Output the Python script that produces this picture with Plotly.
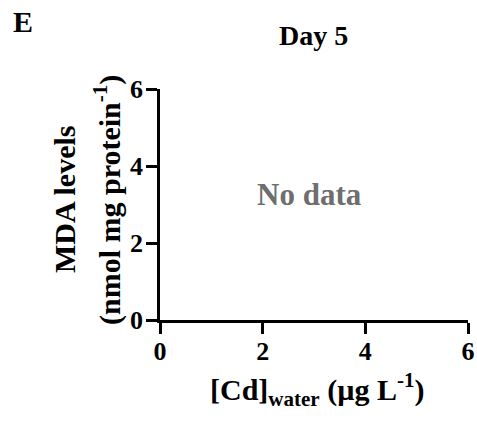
import plotly.graph_objects as go

# Data (this panel has no data points)
cd_water = []          # [Cd]water (µg/L)
mda_levels = []        # MDA levels (nmol/mg protein)
x_ticks = [0, 2, 4, 6]
y_ticks = [0, 2, 4, 6]
panel_label = "E"
panel_title = "Day 5"
no_data_text = "No data"

FONT = "Liberation Serif"
W, H = 477, 424
L, R, T, B = 160, 468, 89, 320  # plot box in page px

fig = go.Figure()
fig.add_trace(go.Scatter(x=cd_water, y=mda_levels, mode="markers",
                         marker=dict(color="black"), showlegend=False))

axis_common = dict(
    showline=True, linecolor="black", linewidth=2.5,
    ticks="outside", ticklen=11, tickwidth=2.5, tickcolor="black",
    showgrid=False, zeroline=False,
    tickfont=dict(family=FONT, size=26, color="black", weight="bold"),
)

fig.update_xaxes(range=[0, 6], tickvals=x_ticks, ticktext=[str(v) for v in x_ticks],
                 ticklabelstandoff=-5, **axis_common)
fig.update_yaxes(range=[0, 6], tickvals=y_ticks, ticktext=[str(v) for v in y_ticks],
                 ticklabelstandoff=-2, **axis_common)

fig.update_layout(
    width=W, height=H,
    margin=dict(l=L, r=W - R, t=T, b=H - B, autoexpand=False),
    plot_bgcolor="white", paper_bgcolor="white",
    font=dict(family=FONT, color="black"),
)

annots = [
    dict(text="<b>" + panel_label + "</b>", x=23, y=22, size=30, rot=0),
    dict(text="<b>" + panel_title + "</b>", x=313, y=36, size=28, rot=0),
    dict(text="<b>[Cd]<sub>water</sub> (µg L<sup>-1</sup>)</b>", x=317, y=389, size=30, rot=0),
    dict(text="<b>MDA levels</b>", x=64, y=200, size=30, rot=-90),
    dict(text="<b>(nmol mg protein<sup>-1</sup>)</b>", x=107, y=200, size=30, rot=-90),
]
for a in annots:
    fig.add_annotation(
        text=a["text"], xref="paper", yref="paper",
        x=(a["x"] - L) / (R - L),
        y=1 - (a["y"] - T) / (B - T),
        xanchor="center", yanchor="middle", showarrow=False, textangle=a["rot"],
        font=dict(family=FONT, size=a["size"], color="black"),
    )

fig.add_annotation(
    text="<b>" + no_data_text + "</b>", x=2.92, y=3.25, xref="x", yref="y",
    showarrow=False, font=dict(family=FONT, size=31, color="#6e6e6e"),
)

fig.write_html(
    "out.html",
    config={"displayModeBar": False},
    post_script="document.body.style.margin='0';document.body.style.overflow='hidden';",
)
